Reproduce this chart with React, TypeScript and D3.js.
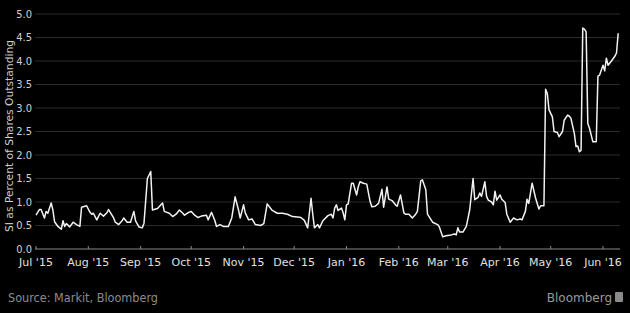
import React from "react";
import * as d3 from "d3";

// Days since 1 Jul 2015 and short interest (% of shares outstanding)
const dayIndex: number[] = [
  0, 2, 3, 5, 6, 7, 9, 10, 11, 13, 15, 16, 17, 18, 20, 22, 24, 26, 27, 30,
  32, 33, 34, 36, 38, 40, 42, 43, 46, 47, 49, 51, 52, 54, 56, 58, 59, 61, 63, 64,
  66, 68, 69, 72, 75, 76, 79, 81, 83, 85, 87, 88, 90, 92, 94, 96, 98, 101, 102, 104,
  106, 107, 109, 111, 114, 116, 118, 120, 121, 123, 124, 126, 128, 130, 133, 135, 137, 140, 143, 146,
  149, 152, 155, 157, 159, 161, 163, 164, 165, 167, 168, 170, 173, 175, 176, 177, 178, 179, 181, 182,
  183, 184, 185, 187, 188, 190, 191, 192, 194, 196, 198, 199, 201, 203, 205, 206, 208, 209, 211, 213,
  214, 216, 218, 219, 221, 223, 225, 226, 228, 229, 231, 232, 235, 238, 239, 241, 243, 246, 248, 249,
  250, 251, 253, 255, 257, 259, 260, 262, 263, 264, 266, 267, 268, 270, 271, 272, 273, 275, 276, 278,
  279, 281, 283, 285, 287, 288, 290, 291, 292, 294, 296, 298, 299, 301, 302, 303, 304, 306, 307, 309,
  310, 312, 313, 315, 316, 317, 319, 320, 321, 322, 323, 324, 325, 326, 327, 328, 330, 331, 332, 333,
  334, 336, 337, 338, 339, 341, 343, 344, 345,
];

const siPct: number[] = [
  0.72, 0.84, 0.84, 0.66, 0.8, 0.76, 0.98, 0.83, 0.58, 0.48, 0.42, 0.6, 0.48, 0.54, 0.47, 0.57, 0.52, 0.48, 0.89, 0.92,
  0.78, 0.74, 0.76, 0.62, 0.76, 0.7, 0.77, 0.84, 0.66, 0.57, 0.52, 0.6, 0.66, 0.57, 0.57, 0.8, 0.6, 0.47, 0.45, 0.55,
  1.5, 1.65, 0.83, 0.86, 0.98, 0.8, 0.76, 0.69, 0.74, 0.83, 0.76, 0.72, 0.77, 0.8, 0.72, 0.67, 0.7, 0.72, 0.62, 0.78,
  0.6, 0.48, 0.52, 0.48, 0.48, 0.66, 1.11, 0.83, 0.66, 0.94, 0.77, 0.62, 0.64, 0.52, 0.5, 0.54, 0.96, 0.82, 0.76, 0.76,
  0.74, 0.69, 0.68, 0.67, 0.61, 0.45, 1.08, 0.74, 0.45, 0.52, 0.45, 0.6, 0.71, 0.74, 0.66, 0.87, 0.94, 0.82, 0.87, 0.77,
  0.62, 0.94, 0.96, 1.4, 1.4, 1.15, 1.33, 1.43, 1.4, 1.38, 1.01, 0.9, 0.91, 0.97, 1.27, 0.89, 1.32, 1.06, 1.03, 0.94,
  0.91, 1.15, 0.77, 0.74, 0.74, 0.66, 0.74, 0.8, 1.45, 1.47, 1.26, 0.74, 0.57, 0.52, 0.47, 0.26, 0.28, 0.3, 0.32, 0.3,
  0.45, 0.36, 0.36, 0.48, 0.83, 1.5, 1.05, 1.1, 1.19, 1.12, 1.43, 1.12, 1.04, 1.0, 0.94, 1.23, 1.04, 1.15, 1.06, 0.99,
  0.74, 0.57, 0.66, 0.62, 0.64, 0.62, 0.8, 1.06, 0.97, 1.4, 1.09, 0.85, 0.92, 0.92, 3.4, 3.31, 2.96, 2.81, 2.5, 2.48,
  2.39, 2.5, 2.74, 2.85, 2.83, 2.78, 2.46, 2.18, 2.19, 2.07, 2.1, 4.7, 4.68, 4.62, 2.67, 2.57, 2.28, 2.28, 2.28, 3.68,
  3.7, 3.91, 3.79, 4.06, 3.91, 4.0, 4.1, 4.17, 4.59,
];

const yTicks: number[] = [0, 0.5, 1, 1.5, 2, 2.5, 3, 3.5, 4, 4.5, 5];
const monthTicks: string[] = [
  "2015-07-01", "2015-08-01", "2015-09-01", "2015-10-01", "2015-11-01", "2015-12-01",
  "2016-01-01", "2016-02-01", "2016-03-01", "2016-04-01", "2016-05-01", "2016-06-01",
];
const yTitle = "SI as Percent of Shares Outstanding";
const source = "Source: Markit, Bloomberg";
const brand = "Bloomberg";

const W = 630;
const H = 313;
const FONT = "'DejaVu Sans', sans-serif";
const FONT_C = "'DejaVu Sans Condensed', 'DejaVu Sans', sans-serif";

export default function App() {
  const start = new Date(2015, 6, 1);
  const parse = d3.timeParse("%Y-%m-%d");
  const data = dayIndex.map((d, i) => ({ date: d3.timeDay.offset(start, d), v: siPct[i] }));

  const x = d3.scaleTime().domain([start, new Date(2016, 5, 1)]).range([36, 603]);
  const y = d3.scaleLinear().domain([0, 5]).range([249, 14]);
  const line = d3
    .line<{ date: Date; v: number }>()
    .x((d) => x(d.date))
    .y((d) => y(d.v))
    .curve(d3.curveLinear);
  const fmt = d3.timeFormat("%b '%y");
  const gridX0 = 35;
  const gridX1 = 620;

  return (
    <svg
      width={W}
      height={H}
      style={{ position: "absolute", left: 0, top: 0, background: "#000" }}
    >
      <rect x={0} y={0} width={W} height={H} fill="#000" />
      {yTicks.map((t) => (
        <g key={t}>
          {t > 0 && (
            <line x1={gridX0} x2={gridX1} y1={y(t)} y2={y(t)} stroke="#2b2b2b" strokeWidth={1} />
          )}
          <text
            x={32}
            y={y(t)}
            dy="0.35em"
            textAnchor="end"
            fill="#cfcfcf"
            fontFamily={FONT_C}
            fontSize={11}
          >
            {t.toFixed(1)}
          </text>
        </g>
      ))}
      <line x1={gridX0} x2={gridX1} y1={y(0)} y2={y(0)} stroke="#8a8a8a" strokeWidth={1} />
      {monthTicks.map((m) => {
        const d = parse(m) as Date;
        const px = x(d);
        return (
          <g key={m}>
            <line x1={px} x2={px} y1={y(0)} y2={y(0) - 3} stroke="#8a8a8a" strokeWidth={1} />
            <text
              x={px}
              y={262}
              dy="0.35em"
              textAnchor="middle"
              fill="#e0e0e0"
              fontFamily={FONT}
              fontSize={11}
            >
              {fmt(d)}
            </text>
          </g>
        );
      })}
      <text
        transform={`translate(9,136) rotate(-90)`}
        textAnchor="middle"
        dy="0.35em"
        fill="#cfcfcf"
        fontFamily={FONT_C}
        fontSize={11}
        textLength={192}
        lengthAdjust="spacingAndGlyphs"
      >
        {yTitle}
      </text>
      <path d={line(data) || ""} fill="none" stroke="#f2f2f2" strokeWidth={1.5} strokeLinejoin="round" />
      <text
        x={8}
        y={298}
        dy="0.35em"
        fill="#8c8c8c"
        fontFamily={FONT}
        fontSize={12}
        textLength={150}
        lengthAdjust="spacingAndGlyphs"
      >
        {source}
      </text>
      <text
        x={612}
        y={298}
        dy="0.35em"
        textAnchor="end"
        fill="#9a9a9a"
        fontFamily={FONT}
        fontSize={12}
      >
        {brand}
      </text>
      <rect x={615} y={292} width={8} height={10} fill="#8a8a8a" rx={1} />
    </svg>
  );
}
